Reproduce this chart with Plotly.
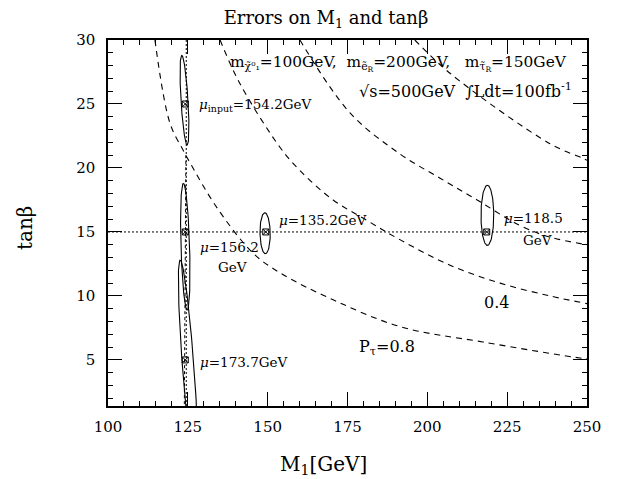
import numpy as np
import plotly.graph_objects as go

# ---- data ----
# dashed contour curves (M1 [GeV], tanβ)
c1_x = [114.7, 119.4, 123.5, 125.7, 134.1, 145.4, 153.9, 170.5, 191.5, 217.4, 247.8, 250.0]
c1_y = [30.0, 23.5, 21.4, 20.4, 16.9, 13.35, 11.8, 9.7, 7.6, 6.4, 5.15, 5.1]
c2_x = [135.1, 141.3, 153.9, 160.1, 170.5, 181.1, 191.4, 207.1, 222.8, 238.4, 250.0]
c2_y = [30.0, 26.6, 21.6, 19.8, 17.5, 15.9, 14.4, 12.4, 11.0, 10.0, 9.4]
c3_x = [160.1, 175.8, 191.4, 204.0, 215.6, 229.0, 238.4, 250.0]
c3_y = [30.0, 24.3, 21.1, 19.2, 17.5, 15.5, 14.6, 14.0]
c4_x = [196.1, 207.1, 238.4, 248.8, 250.0]
c4_y = [30.0, 27.4, 21.9, 20.75, 20.6]

# dotted reference lines
hline_x = [100, 250]
hline_y = [15, 15]
vlineA_x = [124.5, 124.5]
vlineA_y = [1.4, 30]
vlineB_x = [124.4, 123.9]
vlineB_y = [21.0, 1.4]

# error ellipses: centre, half-width (M1), half-height (tanβ), shear
ell_cx = [123.95, 124.2, 125.1, 149.2, 218.8]
ell_cy = [25.3, 13.85, 4.5, 14.9, 16.3]
ell_hw = [1.1, 1.35, 1.8, 1.6, 2.0]
ell_hh = [3.5, 4.95, 8.3, 1.6, 2.35]
ell_sh = [-0.243, -0.12, -0.3, -0.06, 0.0]

# input points
pt_x = [124.2, 124.2, 124.2, 149.4, 218.6]
pt_y = [25, 15, 5, 15, 15]

x_ticks = [100, 125, 150, 175, 200, 225, 250]
y_ticks = [5, 10, 15, 20, 25, 30]

SERIF = "DejaVu Serif"

# page offset (browser body margin) compensation
OFF = 8
W, H = 620 - OFF, 479 - OFF
ML, MR, MT, MB = 108 - OFF, 33, 40 - OFF, 73
PW = W - ML - MR
PH = H - MT - MB

fig = go.Figure()

dash_style = "6px,5px"
for cx_, cy_ in [(c1_x, c1_y), (c2_x, c2_y), (c3_x, c3_y), (c4_x, c4_y)]:
    fig.add_trace(go.Scatter(x=cx_, y=cy_, mode="lines",
                             line=dict(color="black", width=1.1, dash=dash_style, shape="spline"),
                             hoverinfo="skip"))

fig.add_trace(go.Scatter(x=hline_x, y=hline_y, mode="lines",
                         line=dict(color="black", width=1, dash="2px,2px")))
fig.add_trace(go.Scatter(x=vlineA_x, y=vlineA_y, mode="lines",
                         line=dict(color="black", width=1, dash="2px,2px")))
fig.add_trace(go.Scatter(x=vlineB_x, y=vlineB_y, mode="lines",
                         line=dict(color="black", width=1, dash="3px,3px")))

t = np.linspace(0, 2 * np.pi, 120)
for cx, cy, hw, hh, sh in zip(ell_cx, ell_cy, ell_hw, ell_hh, ell_sh):
    ex = cx + sh * hh * np.cos(t) + hw * np.sin(t)
    ey = cy + hh * np.cos(t)
    fig.add_trace(go.Scatter(x=ex, y=ey, mode="lines",
                             line=dict(color="black", width=1.1)))

fig.add_trace(go.Scatter(x=pt_x, y=pt_y, mode="markers",
                         marker=dict(symbol="square-x-open", size=6, color="black",
                                     line=dict(width=1, color="black"))))

ann = []
def T(x, y, text, size=14, xanchor="left", font=SERIF):
    ann.append(dict(x=x, y=y, xref="x", yref="y", text=text, showarrow=False,
                    xanchor=xanchor, yanchor="middle",
                    font=dict(family=font, size=size, color="black")))

T(137.6, 28.17, "m<sub>χ̃⁰₁</sub>=100GeV,  m<sub>ẽ<sub>R</sub></sub>=200GeV,   m<sub>τ̃<sub>R</sub></sub>=150GeV", 15.4)
T(178.0, 26.06, "√s=500GeV  ∫Ldt=100fb<sup>-1</sup>", 16)
T(127.9, 24.9, "<i>μ</i><sub>input</sub>=154.2GeV", 13.5)
T(152.9, 15.9, "<i>μ</i>=135.2GeV", 13.5)
T(128.2, 13.8, "<i>μ</i>=156.2", 13.5)
T(139.1, 12.25, "GeV", 13.5, "center")
T(128.2, 4.85, "<i>μ</i>=173.7GeV", 13.5)
T(223.4, 16.1, "<i>μ</i>=118.5", 13.5)
T(234.4, 14.4, "GeV", 13.5, "center")
T(221.8, 9.45, "0.4", 16, "center")
T(178.0, 5.94, "P<sub>τ</sub>=0.8", 16)

ann.append(dict(x=(323 - 108) / PW, y=(406 - 465) / PH, xref="paper", yref="paper",
                text="M<sub>1</sub>[GeV]", showarrow=False, xanchor="center", yanchor="middle",
                font=dict(family=SERIF, size=20, color="black")))
ann.append(dict(x=(25 - 108) / PW, y=(406 - 228) / PH, xref="paper", yref="paper",
                text="tanβ", showarrow=False, textangle=-90, xanchor="center", yanchor="middle",
                font=dict(family=SERIF, size=20, color="black")))

axis_common = dict(showgrid=False, zeroline=False, showline=True, linecolor="black",
                   linewidth=1.5, mirror="ticks", ticks="inside", tickcolor="black",
                   tickwidth=1.2, ticklen=14,
                   tickfont=dict(family=SERIF, size=15, color="black"))

fig.update_layout(
    width=W, height=H,
    margin=dict(l=ML, r=MR, t=MT, b=MB),
    paper_bgcolor="white", plot_bgcolor="white",
    showlegend=False,
    title=dict(text="Errors on M<sub>1</sub> and tanβ", x=(326 - OFF) / W, xanchor="center",
               xref="container", y=1 - 10 / H, yanchor="middle", yref="container",
               font=dict(family=SERIF, size=18, color="black")),
    xaxis=dict(range=[100, 250], tickvals=x_ticks, ticklabelstandoff=6,
               minor=dict(ticks="inside", ticklen=5, dtick=5, tick0=100, tickcolor="black", tickwidth=1),
               **axis_common),
    yaxis=dict(range=[1.4, 30], tickvals=y_ticks, ticklabelstandoff=8,
               minor=dict(ticks="inside", ticklen=5, dtick=1, tick0=0, tickcolor="black", tickwidth=1),
               **axis_common),
    annotations=ann,
)

fig.write_html("out.html")
